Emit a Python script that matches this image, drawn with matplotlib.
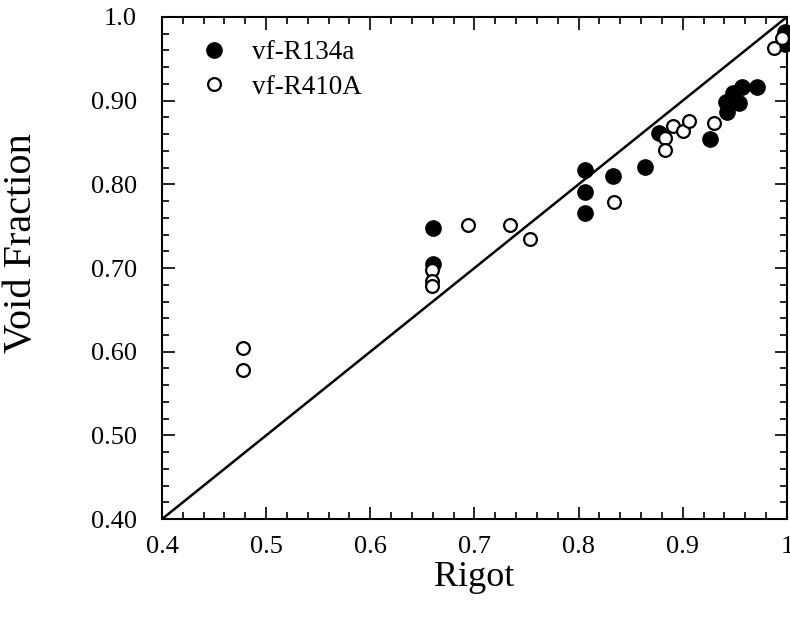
import matplotlib
matplotlib.use("Agg")
import matplotlib.pyplot as plt
from matplotlib.ticker import MultipleLocator

plt.rcParams['font.family'] = ['Liberation Serif', 'DejaVu Serif']

# R134a (filled)
r134a_x = [0.660, 0.660, 0.806, 0.806, 0.806, 0.833, 0.864, 0.877, 0.926,
           0.943, 0.942, 0.948, 0.954, 0.957, 0.971, 0.998, 0.998]
r134a_y = [0.748, 0.705, 0.817, 0.791, 0.766, 0.810, 0.821, 0.861, 0.854,
           0.886, 0.898, 0.909, 0.897, 0.916, 0.916, 0.982, 0.968]

# R410A (open)
r410a_x = [0.478, 0.478, 0.659, 0.659, 0.659, 0.694, 0.734, 0.753, 0.834,
           0.883, 0.883, 0.891, 0.900, 0.906, 0.930, 0.988, 0.995]
r410a_y = [0.604, 0.578, 0.698, 0.685, 0.678, 0.752, 0.752, 0.735, 0.779,
           0.855, 0.841, 0.870, 0.864, 0.876, 0.873, 0.963, 0.975]

line_x = [0.4, 1.0]
line_y = [0.4, 1.0]

xticks = [0.4, 0.5, 0.6, 0.7, 0.8, 0.9, 1.0]
xticklabels = ['0.4', '0.5', '0.6', '0.7', '0.8', '0.9', '1']
yticks = [0.4, 0.5, 0.6, 0.7, 0.8, 0.9, 1.0]
yticklabels = ['0.40', '0.50', '0.60', '0.70', '0.80', '0.90', '1.0']

fig = plt.figure(figsize=(7.9, 6.18), dpi=100)
ax = fig.add_axes([0.205, 0.160, 0.791, 0.8125])

ax.plot(line_x, line_y, color='black', lw=1.8, zorder=2)
ax.plot(r134a_x, r134a_y, 'o', ms=11.0, mfc='black', mec='black', mew=1.0,
        ls='none', label='vf-R134a', zorder=3, clip_on=False)
ax.plot(r410a_x, r410a_y, 'o', ms=9.2, mfc='white', mec='black', mew=1.6,
        ls='none', label='vf-R410A', zorder=3, clip_on=False)

ax.set_xlim(0.4, 1.0)
ax.set_ylim(0.4, 1.0)
ax.set_xticks(xticks)
ax.set_xticklabels(xticklabels)
ax.set_yticks(yticks)
ax.set_yticklabels(yticklabels)
ax.xaxis.set_minor_locator(MultipleLocator(0.02))
ax.yaxis.set_minor_locator(MultipleLocator(0.02))
ax.tick_params(which='both', direction='in', top=True, right=True, width=1.2)
ax.tick_params(which='major', length=9, labelsize=19)
ax.tick_params(axis='y', which='major', pad=18)
ax.tick_params(axis='x', which='major', pad=12)
ax.tick_params(which='minor', length=5)
for s in ax.spines.values():
    s.set_linewidth(1.5)

ax.set_xlabel('Rigot', fontsize=26, labelpad=2)
ax.set_ylabel('Void Fraction', fontsize=29)
ax.yaxis.set_label_coords(-0.195, 0.55)

ax.legend(loc='upper left', frameon=False, fontsize=19.5, handletextpad=0.9,
          labelspacing=0.35, borderaxespad=0.0, handlelength=1.0,
          bbox_to_anchor=(0.045, 0.975))

fig.savefig('out.png', dpi=100)
